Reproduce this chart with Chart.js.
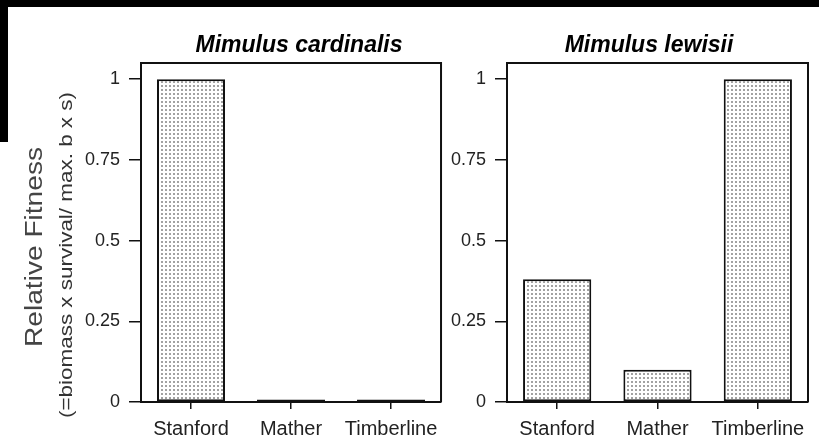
<!DOCTYPE html>
<html>
<head>
<meta charset="utf-8">
<script src="https://cdn.jsdelivr.net/npm/chart.js@4"></script>
<style>
  body { margin: 0; background: #fff; }
  #wrap { position: relative; width: 819px; height: 445px; overflow: hidden; background: #fff; }
  canvas { position: absolute; top: 0; }
  #c1 { left: 0; }
  #c2 { left: 446px; }
  .band { position: absolute; background: #000; }
</style>
</head>
<body>
<div id="wrap">
  <canvas id="c1" width="446" height="445"></canvas>
  <canvas id="c2" width="373" height="445"></canvas>
  <div class="band" style="left:0;top:0;width:819px;height:7px"></div>
  <div class="band" style="left:0;top:0;width:8px;height:142px"></div>
</div>
<script>
// data
const categories = ['Stanford', 'Mather', 'Timberline'];
const cardinalisFitness = [1, 0.008, 0.008];
const lewisiiFitness = [0.38, 0.10, 1];
const yTickValues = [0, 0.25, 0.5, 0.75, 1];
const yMax = 1.05;

const titleLeft = 'Mimulus cardinalis';
const titleRight = 'Mimulus lewisii';
const yTitle = 'Relative Fitness';
const ySubTitle = '(=biomass x survival/ max. b x s)';

const FONT = '"Liberation Sans", Arial, sans-serif';

// dotted fill like the original
function dotPattern() {
    const t = document.createElement('canvas');
    t.width = 4;
    t.height = 4;
    const c = t.getContext('2d');
    c.fillStyle = '#ffffff';
    c.fillRect(0, 0, 4, 4);
    c.fillStyle = '#a2a2a2';
    c.fillRect(1, 1, 2, 2);
    return c.createPattern(t, 'repeat');
}

// top + right side of the box
const framePlugin = {
    id: 'frame',
    afterDraw(chart) {
        const a = chart.chartArea;
        const ctx = chart.ctx;
        ctx.save();
        ctx.strokeStyle = '#111';
        ctx.lineWidth = 2;
        ctx.beginPath();
        ctx.moveTo(a.left, a.top);
        ctx.lineTo(a.right, a.top);
        ctx.lineTo(a.right, a.bottom);
        ctx.stroke();
        ctx.restore();
    }
};

function titlePlugin(text, cx) {
    return {
        id: 'panelTitle',
        afterDraw(chart) {
            const ctx = chart.ctx;
            ctx.save();
            ctx.font = 'italic bold 23px ' + FONT;
            ctx.fillStyle = '#000';
            ctx.textAlign = 'center';
            ctx.textBaseline = 'alphabetic';
            ctx.fillText(text, cx, 52);
            ctx.restore();
        }
    };
}

// vertical text stretched to the length it has in the picture
function drawVertical(ctx, text, x, y, size, len, color) {
    ctx.save();
    ctx.translate(x, y);
    ctx.rotate(-Math.PI / 2);
    ctx.font = size + 'px ' + FONT;
    const w = ctx.measureText(text).width;
    ctx.scale(len / w, 1);
    ctx.fillStyle = color;
    ctx.textAlign = 'center';
    ctx.textBaseline = 'middle';
    ctx.fillText(text, 0, 0);
    ctx.restore();
}

const yTitlePlugin = {
    id: 'yTitles',
    afterDraw(chart) {
        drawVertical(chart.ctx, yTitle, 36, 247, 23, 200, '#444');
        drawVertical(chart.ctx, ySubTitle, 67, 255, 18, 326, '#333');
    }
};

function makeChart(id, values, yWidth, padRight, extraPlugins) {
    const ctx = document.getElementById(id).getContext('2d');
    return new Chart(ctx, {
        type: 'bar',
        data: {
            labels: categories,
            datasets: [{
                data: values,
                backgroundColor: dotPattern(),
                borderColor: '#111',
                borderWidth: 2,
                borderSkipped: false,
                barPercentage: 0.68,
                categoryPercentage: 1
            }]
        },
        options: {
            responsive: false,
            animation: false,
            layout: { padding: { top: 63, right: padRight, bottom: 0, left: 0 } },
            plugins: {
                legend: { display: false },
                tooltip: { enabled: false },
                title: { display: false }
            },
            scales: {
                x: {
                    grid: {
                        offset: false,
                        drawOnChartArea: false,
                        drawTicks: true,
                        tickLength: 7,
                        color: '#111',
                        lineWidth: 1.5
                    },
                    border: { display: true, color: '#111', width: 2 },
                    ticks: {
                        color: '#222',
                        padding: 8,
                        maxRotation: 0,
                        font: { family: FONT, size: 20 }
                    },
                    afterFit(scale) { scale.height = 43; }
                },
                y: {
                    min: 0,
                    max: yMax,
                    afterBuildTicks(scale) {
                        scale.ticks = yTickValues.map(v => ({ value: v }));
                    },
                    grid: {
                        drawOnChartArea: false,
                        drawTicks: true,
                        tickLength: 12,
                        color: '#111',
                        lineWidth: 1.5
                    },
                    border: { display: true, color: '#111', width: 2 },
                    ticks: {
                        color: '#222',
                        padding: 9,
                        font: { family: FONT, size: 18 },
                        callback: v => String(v)
                    },
                    afterFit(scale) { scale.width = yWidth; }
                }
            }
        },
        plugins: [framePlugin].concat(extraPlugins)
    });
}

document.addEventListener('DOMContentLoaded', function () {
    makeChart('c1', cardinalisFitness, 141, 4, [titlePlugin(titleLeft, 299), yTitlePlugin]);
    makeChart('c2', lewisiiFitness, 61, 11, [titlePlugin(titleRight, 649 - 446)]);
});
</script>
</body>
</html>
